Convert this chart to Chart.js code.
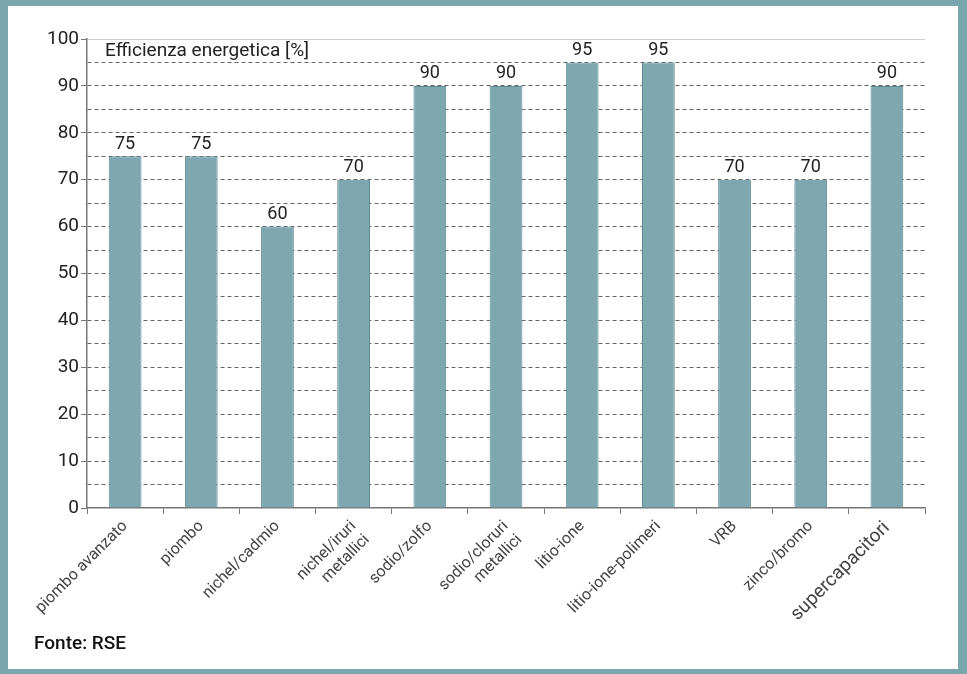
<!DOCTYPE html>
<html>
<head>
<meta charset="utf-8">
<script src="https://cdn.jsdelivr.net/npm/chart.js@4"></script>
<style>
  body { margin: 0; background: #7aa6ae; width: 967px; height: 674px; overflow: hidden; }
  #panel { position: absolute; left: 8px; top: 6px; width: 950px; height: 663px; background: #fff; }
  #chart { position: absolute; left: 0; top: 0; }
  #fonte { position: absolute; left: 34px; top: 631px; font: 500 19px Roboto, sans-serif; color: #111; }
</style>
</head>
<body>
<div id="panel"></div>
<canvas id="chart" width="967" height="674"></canvas>
<div id="fonte">Fonte: RSE</div>
<script>
// dati
const categorie = ["piombo avanzato", "piombo", "nichel/cadmio", ["nichel/iruri", "metallici"], "sodio/zolfo",
  ["sodio/cloruri", "metallici"], "litio-ione", "litio-ione-polimeri", "VRB", "zinco/bromo", "supercapacitori"];
const efficienza = [75, 75, 60, 70, 90, 90, 95, 95, 70, 70, 90];
const titoloAsse = "Efficienza energetica [%]";

// etichette sopra le barre + titolo dentro il grafico
const etichette = {
  id: 'etichette',
  afterDatasetsDraw(chart) {
    const ctx = chart.ctx;
    const meta = chart.getDatasetMeta(0);
    ctx.save();
    ctx.fillStyle = '#222';
    ctx.font = '18px Roboto';
    ctx.textAlign = 'center';
    ctx.textBaseline = 'bottom';
    meta.data.forEach((bar, i) => {
      ctx.fillText(efficienza[i], bar.x, bar.y - 3);
    });
    ctx.textAlign = 'left';
    ctx.textBaseline = 'top';
    ctx.font = '19px Roboto';
    ctx.fillText(titoloAsse, chart.chartArea.left + 18, chart.chartArea.top + 3);
    ctx.restore();
  }
};

new Chart(document.getElementById("chart"), {
  type: 'bar',
  data: {
    labels: categorie,
    datasets: [{
      data: efficienza,
      backgroundColor: '#7ea7af',
      borderColor: '#5f8b94',
      borderWidth: 1,
      categoryPercentage: 1,
      barPercentage: 0.43
    }]
  },
  options: {
    responsive: false,
    animation: false,
    layout: { padding: { top: 39, right: 42, left: 0, bottom: 0 } },
    plugins: { legend: { display: false }, tooltip: { enabled: false } },
    scales: {
      x: {
        afterFit: s => { s.height = 166; },
        grid: { drawOnChartArea: false, tickLength: 6, tickColor: '#777', offset: true },
        border: { color: '#777', width: 1.5 },
        ticks: {
          minRotation: 45, maxRotation: 45, autoSkip: false, padding: 3,
          color: '#444',
          font: c => ({ family: 'Roboto', size: c.index === 10 ? 19 : 16 })
        }
      },
      y: {
        min: 0, max: 100,
        afterFit: s => { s.width = 87; },
        ticks: {
          stepSize: 5, padding: 2, color: '#222', autoSkip: false,
          font: { family: 'Roboto', size: 19 },
          callback: v => v % 10 === 0 ? v : ''
        },
        grid: {
          tickLength: 6,
          lineWidth: 1,
          color: c => c.tick && c.tick.value === 100 ? '#ccc' : (c.tick && c.tick.value === 0 ? 'transparent' : '#666'),
          tickColor: c => c.tick && c.tick.value % 10 === 0 ? '#777' : 'transparent'
        },
        border: {
          color: '#777', width: 1.5,
          dash: c => c.tick && c.tick.value !== 100 ? [4, 3] : []
        }
      }
    }
  },
  plugins: [etichette]
});
</script>
</body>
</html>
